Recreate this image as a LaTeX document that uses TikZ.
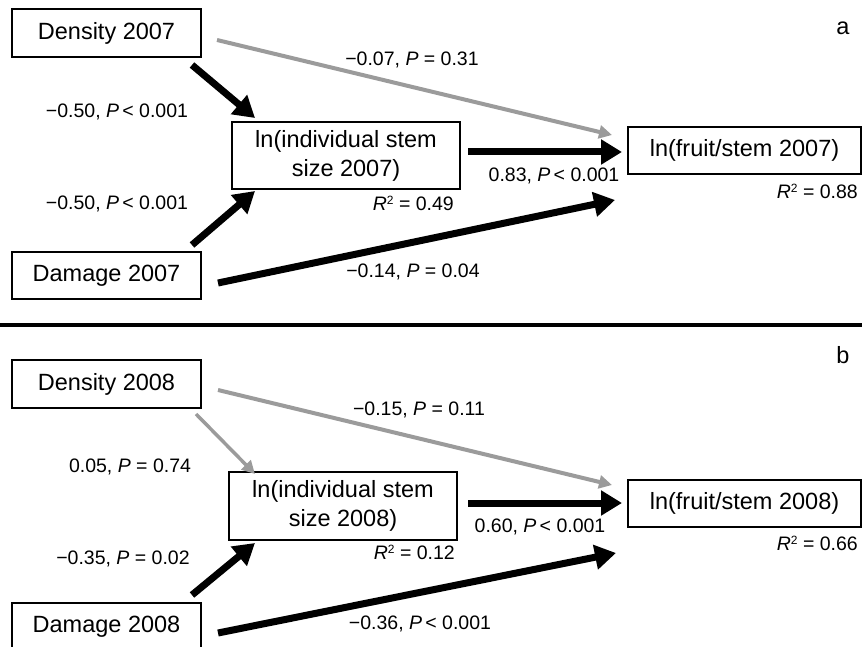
\documentclass[tikz,border=0pt]{standalone}
\usepackage{fontspec}
\setmainfont{Liberation Sans}
\usetikzlibrary{arrows.meta}
\definecolor{pathgray}{RGB}{155,155,155}
\newcommand{\rsq}{\textit{R}\raisebox{0.6ex}{\fontsize{12}{12}\selectfont 2}}
\newcommand{\plt}{\textit{P}\,<\ 0.001}
\begin{document}
\begin{tikzpicture}[x=1pt,y=-1pt,
 box/.style={draw, line width=2pt, inner sep=0pt, font=\fontsize{23.5}{29}\selectfont, align=center},
 lab/.style={font=\fontsize{19.5}{22}\selectfont, inner sep=0pt},
 panel/.style={font=\fontsize{23.5}{28}\selectfont, inner sep=0pt},
 strong/.style={line width=7pt, -{Triangle[length=21pt,width=24pt]}},
 weak/.style={draw=pathgray, fill=pathgray, line width=4pt, -{Triangle[length=13pt,width=13pt]}},
 weaker/.style={draw=pathgray, fill=pathgray, line width=3.5pt, -{Triangle[length=13pt,width=13pt]}}
]
\clip (0,0) rectangle (862,647);
% ---------- panel a ----------
\node[box, minimum width=189pt, minimum height=48pt] (dena) at (106.5,33) {Density 2007};
\node[box, minimum width=189pt, minimum height=47pt] (dama) at (106.5,275.5) {Damage 2007};
\node[box, minimum width=228pt, minimum height=67pt] (stema) at (346,155.5) {ln(individual stem\\size 2007)};
\node[box, minimum width=233pt, minimum height=47pt] (fruita) at (744.5,150.5) {ln(fruit/stem 2007)};
\node[panel] (pa) at (843,28) {a};

\coordinate (a1s) at (192,65);  \coordinate (a1e) at (255,118);
\coordinate (a2s) at (192,245); \coordinate (a2e) at (255,191);
\coordinate (a3s) at (217,40);  \coordinate (a3e) at (612,135);
\coordinate (a4s) at (468,152); \coordinate (a4e) at (622,152);
\coordinate (a5s) at (218,283); \coordinate (a5e) at (615,200);
\draw[weak] (a3s) -- (a3e);
\draw[strong] (a1s) -- (a1e);
\draw[strong] (a2s) -- (a2e);
\draw[strong] (a4s) -- (a4e);
\draw[strong] (a5s) -- (a5e);

\node[lab] (la3) at (412,60) {−0.07, \textit{P} = 0.31};
\node[lab] (la1) at (117,112) {−0.50, \plt};
\node[lab] (la2) at (117,204) {−0.50, \plt};
\node[lab, anchor=east] (lra) at (454,203) {\rsq{} = 0.49};
\node[lab] (la4) at (554,176) {0.83, \plt};
\node[lab, anchor=east] (lrfa) at (858,191) {\rsq{} = 0.88};
\node[lab] (la5) at (413,272) {−0.14, \textit{P} = 0.04};

% ---------- separator ----------
\coordinate (rl) at (0,325); \coordinate (rr) at (862,325);
\draw[line width=4pt] (rl) -- (rr);

% ---------- panel b ----------
\node[box, minimum width=189pt, minimum height=48pt] (denb) at (106.5,384) {Density 2008};
\node[box, minimum width=189pt, minimum height=47pt] (damb) at (106.5,626.5) {Damage 2008};
\node[box, minimum width=228pt, minimum height=68pt] (stemb) at (343,506) {ln(individual stem\\size 2008)};
\node[box, minimum width=233pt, minimum height=47pt] (fruitb) at (744.5,503.5) {ln(fruit/stem 2008)};
\node[panel] (pb) at (843,355) {b};

\coordinate (b1s) at (196,414); \coordinate (b1e) at (255,474);
\coordinate (b2s) at (218,390); \coordinate (b2e) at (612,485);
\coordinate (b3s) at (468,503); \coordinate (b3e) at (622,503);
\coordinate (b4s) at (192,595); \coordinate (b4e) at (255,543);
\coordinate (b5s) at (218,633); \coordinate (b5e) at (616,553);
\draw[weaker] (b1s) -- (b1e);
\draw[weak] (b2s) -- (b2e);
\draw[strong] (b3s) -- (b3e);
\draw[strong] (b4s) -- (b4e);
\draw[strong] (b5s) -- (b5e);

\node[lab] (lb2) at (419,410) {−0.15, \textit{P} = 0.11};
\node[lab] (lb1) at (130,467) {0.05, \textit{P} = 0.74};
\node[lab] (lb4) at (123,559) {−0.35, \textit{P} = 0.02};
\node[lab, anchor=east] (lrb) at (455,552) {\rsq{} = 0.12};
\node[lab] (lb3) at (540,527) {0.60, \plt};
\node[lab, anchor=east] (lrfb) at (858,543) {\rsq{} = 0.66};
\node[lab] (lb5) at (420,624) {−0.36, \plt};
\end{tikzpicture}
\end{document}
